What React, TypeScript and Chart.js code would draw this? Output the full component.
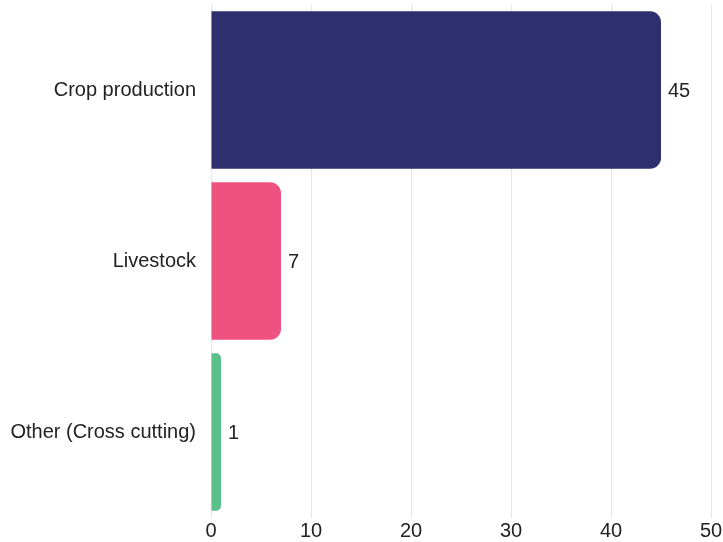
import React, { useEffect, useRef } from "react";
import { Chart, registerables } from "chart.js";

Chart.register(...registerables);

const categories = ["Crop production", "Livestock", "Other (Cross cutting)"];
const values = [45, 7, 1];
const colors = ["#2d2f6e", "#ef5280", "#5bbf8a"];
const xTicks = [0, 10, 20, 30, 40, 50];

const valueLabels = {
  id: "valueLabels",
  afterDatasetsDraw(chart: any) {
    const ctx = chart.ctx;
    const meta = chart.getDatasetMeta(0);
    ctx.save();
    ctx.font = "20px 'Liberation Sans', Arial, sans-serif";
    ctx.fillStyle = "#222222";
    ctx.textAlign = "left";
    ctx.textBaseline = "middle";
    meta.data.forEach((bar: any, i: number) => {
      ctx.fillText(String(values[i]), bar.x + 7, bar.y + 1);
    });
    ctx.restore();
  },
};

export default function App() {
  const ref = useRef<HTMLCanvasElement | null>(null);
  useEffect(() => {
    document.body.style.margin = "0";
    const chart = new Chart(ref.current as HTMLCanvasElement, {
      type: "bar",
      data: {
        labels: categories,
        datasets: [
          {
            data: values,
            backgroundColor: colors,
            borderWidth: 0,
            borderRadius: 11,
            categoryPercentage: 1,
            barPercentage: 0.92,
          },
        ],
      },
      options: {
        indexAxis: "y",
        animation: false,
        responsive: false,
        devicePixelRatio: 1,
        layout: { padding: { top: 4.5, right: 12, left: 0, bottom: 0 } },
        plugins: { legend: { display: false }, tooltip: { enabled: false } },
        scales: {
          x: {
            min: 0,
            max: 50,
            afterBuildTicks(scale: any) {
              scale.ticks = xTicks.map((v) => ({ value: v }));
            },
            afterFit(scale: any) {
              scale.height = 24.5;
              scale.paddingLeft = 0;
              scale.paddingRight = 0;
            },
            grid: { color: "#e6e6e6", drawTicks: false, lineWidth: 1 },
            border: { display: false },
            ticks: {
              padding: 2,
              color: "#222222",
              font: { size: 20, family: "'Liberation Sans', Arial, sans-serif" },
            },
          },
          y: {
            afterFit(scale: any) {
              scale.width = 211;
              scale.paddingTop = 0;
              scale.paddingBottom = 0;
            },
            grid: { display: false, drawTicks: false },
            border: { display: true, color: "#e6e6e6" },
            ticks: {
              padding: 15,
              color: "#222222",
              font: { size: 20, family: "'Liberation Sans', Arial, sans-serif" },
            },
          },
        },
      },
      plugins: [valueLabels],
    });
    return () => chart.destroy();
  }, []);
  return (
    <div style={{ position: "absolute", left: 0, top: 0, width: 723, height: 542 }}>
      <canvas ref={ref} width={723} height={542} />
    </div>
  );
}
